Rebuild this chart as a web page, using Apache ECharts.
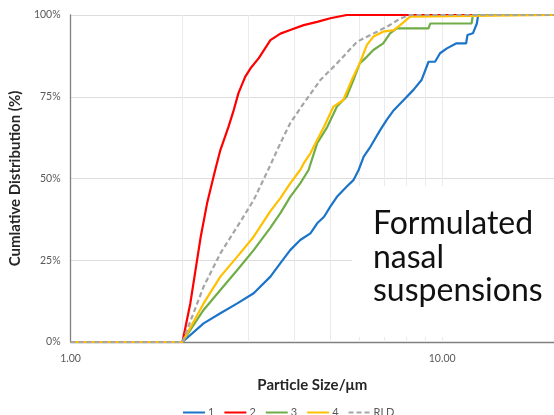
<!DOCTYPE html>
<html>
<head>
<meta charset="utf-8">
<script src="https://cdn.jsdelivr.net/npm/echarts@6/dist/echarts.min.js"></script>
<style>
html,body{margin:0;padding:0;background:#fff;}
#chart{width:554px;height:415px;}
</style>
</head>
<body>
<div id="chart"></div>
<script>
// ---- data (particle size in µm, cumulative %) ----
var seriesNames = ['1', '2', '3', '4', 'RLD'];
var size1 = [1.00, 2.00, 2.28, 2.53, 2.81, 3.11, 3.45, 3.67, 3.90, 4.15, 4.42, 4.61, 4.81, 5.00, 5.21, 5.53, 5.77, 5.96, 6.15, 6.41, 6.81, 7.10, 7.41, 7.88, 8.37, 8.80, 9.19, 9.57, 9.87, 10.3, 10.9, 11.6, 11.7, 12.1, 12.4, 12.5, 20.0];
var cum1  = [0, 0, 5.7, 8.8, 11.8, 14.9, 20.0, 24.1, 28.1, 31.2, 33.2, 36.3, 38.3, 41.4, 44.4, 47.5, 49.5, 52.6, 56.7, 59.7, 64.8, 68.0, 70.9, 74.0, 77.1, 80.1, 85.7, 85.7, 88.3, 89.8, 91.3, 91.3, 93.9, 94.4, 97.4, 100, 100];
var size2 = [1.00, 2.00, 2.10, 2.24, 2.33, 2.45, 2.53, 2.66, 2.75, 2.83, 2.95, 3.05, 3.21, 3.45, 3.67, 3.90, 4.24, 4.61, 5.00, 5.54, 20.0];
var cum2  = [0, 0, 11.8, 32.2, 42.4, 52.6, 58.7, 65.8, 71.0, 76.1, 81.1, 83.7, 86.8, 92.3, 94.3, 95.4, 96.9, 97.9, 99.0, 100, 100];
var size3 = [1.00, 2.00, 2.28, 2.53, 2.81, 3.11, 3.45, 3.67, 3.90, 4.15, 4.37, 4.61, 4.91, 5.21, 5.53, 5.77, 6.00, 6.27, 6.53, 6.94, 7.24, 7.55, 9.19, 9.29, 12.0, 12.1, 20.0];
var cum3  = [0, 0, 9.8, 15.9, 22.0, 28.1, 35.0, 39.4, 44.4, 48.5, 52.6, 60.8, 65.8, 72.0, 75.0, 80.1, 85.2, 87.2, 89.3, 91.3, 94.4, 95.9, 95.9, 97.4, 97.4, 100, 100];
var size4 = [1.00, 2.00, 2.28, 2.53, 2.81, 3.11, 3.45, 3.67, 3.90, 4.15, 4.24, 4.42, 4.61, 4.81, 5.10, 5.42, 5.71, 6.00, 6.27, 6.53, 6.94, 7.41, 7.71, 8.20, 8.29, 20.0];
var cum4  = [0, 0, 11.8, 20.0, 26.1, 32.2, 40.0, 44.0, 48.5, 52.6, 54.6, 57.7, 61.8, 65.8, 72.0, 74.0, 80.1, 85.2, 90.8, 93.4, 94.9, 95.4, 96.9, 99.5, 100, 100];
var sizeRLD = [1.00, 2.00, 2.28, 2.53, 2.81, 3.11, 3.41, 3.67, 3.90, 4.24, 4.70, 5.21, 5.90, 6.41, 7.10, 7.71, 8.20, 20.0];
var cumRLD  = [0, 0, 16.9, 27.1, 35.3, 43.4, 52.9, 60.8, 66.9, 73.0, 80.1, 85.2, 91.8, 93.9, 96.4, 98.9, 100, 100];
var yTicks = [0, 25, 50, 75, 100];
var xGridSizes = [2, 3, 4, 5, 6, 7, 8, 9, 10];
var noteLines = ['Formulated', 'nasal', 'suspensions'];

var colors = ['#1B74C9', '#FF0000', '#70AD47', '#FFC000', '#A5A5A5'];
var sizes = [size1, size2, size3, size4, sizeRLD];
var cums = [cum1, cum2, cum3, cum4, cumRLD];

function pairs(xs, ys) { return xs.map(function (x, i) { return [x, ys[i]]; }); }

var series = seriesNames.map(function (n, i) {
  return {
    name: n,
    type: 'line',
    data: pairs(sizes[i], cums[i]),
    symbol: 'none',
    showSymbol: false,
    z: 5,
    lineStyle: { color: colors[i], width: 2.2, type: n === 'RLD' ? [5, 3] : 'solid' },
    itemStyle: { color: colors[i] },
    animation: false
  };
});
// helper series carrying the vertical (minor) gridlines
series.unshift({
  name: 'grid',
  type: 'line',
  data: [],
  z: 1,
  silent: true,
  animation: false,
  markLine: {
    z: 1,
    silent: true,
    symbol: 'none',
    label: { show: false },
    animation: false,
    lineStyle: { color: '#EBEBEB', width: 1, type: 'solid' },
    data: xGridSizes.map(function (v) { return { xAxis: v }; })
  }
});

var chart = echarts.init(document.getElementById('chart'), null, { renderer: 'canvas' });
chart.setOption({
  animation: false,
  textStyle: { fontFamily: 'Lato' },
  grid: { left: 70, top: 15, right: 0, bottom: 73, containLabel: false },
  xAxis: {
    type: 'log', logBase: 10, min: 1, max: 20,
    name: 'Particle Size/\u03bcm',
    nameLocation: 'middle', nameGap: 36,
    nameTextStyle: { fontFamily: 'Lato', fontWeight: 'bold', fontSize: 15, color: '#262626' },
    axisLine: { show: true, lineStyle: { color: '#808080', width: 1.3 } },
    axisTick: { show: false },
    splitLine: { show: false },
    axisLabel: {
      margin: 11, fontSize: 10.5, color: '#595959', fontFamily: 'Lato', showMaxLabel: false,
      formatter: function (v) {
        var l = Math.log10(v);
        return Math.abs(l - Math.round(l)) < 1e-6 ? v.toFixed(2) : '';
      }
    }
  },
  yAxis: {
    type: 'value', min: 0, max: 100, interval: 25,
    name: 'Cumlative Distribution (%)',
    nameLocation: 'middle', nameGap: 47, nameRotate: 90,
    nameTextStyle: { fontFamily: 'Lato', fontWeight: 'bold', fontSize: 15, color: '#262626' },
    axisLine: { show: true, lineStyle: { color: '#808080', width: 1.3 } },
    axisTick: { show: false },
    splitLine: { show: true, lineStyle: { color: '#DDDDDD', width: 1 } },
    axisLabel: { margin: 10, fontSize: 10.5, color: '#595959', fontFamily: 'Lato', formatter: '{value}%' }
  },
  legend: {
    data: seriesNames,
    left: 177, top: 402,
    itemWidth: 22, itemHeight: 10, itemGap: 9,
    itemStyle: { color: 'rgba(0,0,0,0)', borderColor: 'rgba(0,0,0,0)', borderWidth: 0 },
    textStyle: { fontSize: 11, color: '#595959', fontFamily: 'Lato', padding: [0, 0, 0, -2] }
  },
  graphic: {
    z: 3,
    elements: [
      {
        type: 'rect', z: 3, silent: true,
        shape: { x: 352, y: 186, width: 202, height: 151 },
        style: { fill: '#ffffff' }
      },
      {
        type: 'text', z: 4, silent: true,
        left: 373, top: 207,
        style: {
          text: noteLines.join('\n'),
          fontFamily: 'Lato', fontSize: 32, lineHeight: 33.5,
          fill: '#111111'
        }
      }
    ]
  },
  series: series
});
</script>
</body>
</html>
